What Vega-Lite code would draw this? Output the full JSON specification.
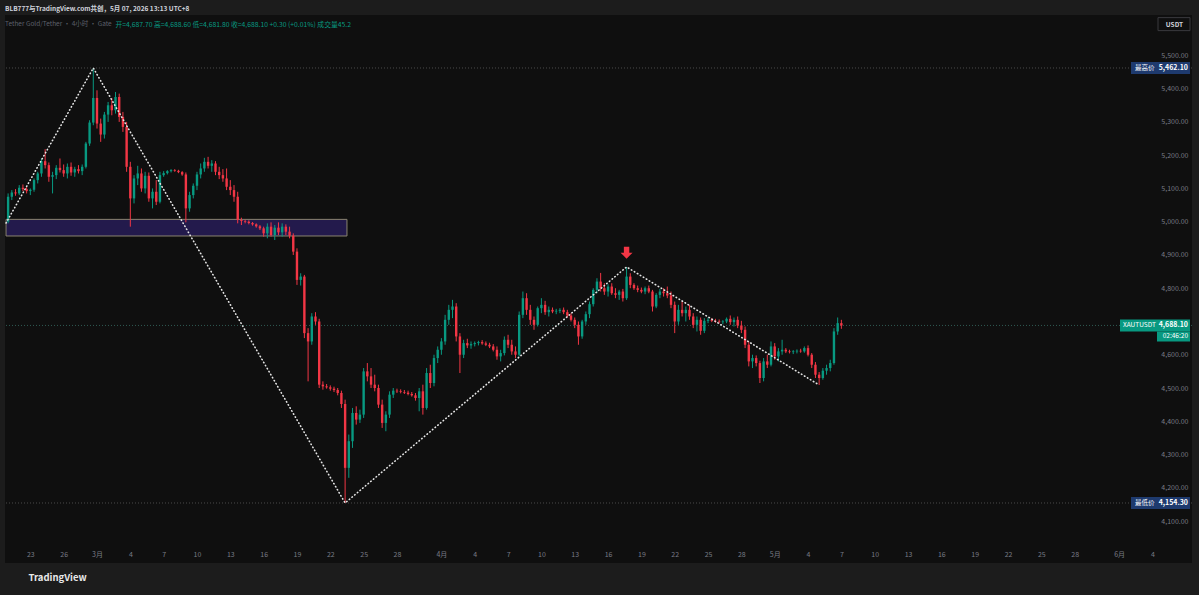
{
"$schema":"https://vega.github.io/schema/vega-lite/v6.json",
"autosize":{"type":"none"},
"padding":{"left":5,"top":15,"right":7,"bottom":32},
"width":1187,"height":548,
"title":{"text":"BLB777与TradingView.com共创，5月 07, 2026 13:13 UTC+8","subtitle":"Tether Gold/Tether · 4小时 · Gate","anchor":"start","frame":"group","orient":"top","offset":-12,"fontSize":6.5,"fontWeight":"bold","color":"#d1d4dc","subtitleFontSize":6.5,"subtitleColor":"#5d606b","subtitlePadding":8},
"config":{"background":"#1c1c1c","view":{"fill":"#0f0f0f","stroke":null},"font":"Noto Sans CJK SC","axis":{"grid":false,"domain":false,"ticks":false}},
"resolve":{"axis":{"x":"independent","y":"independent"}},
"datasets":{
"zone":[{"t1":"2026-02-20T19:30Z","t2":"2026-03-23T12:00Z","p1":5007,"p2":4957}],
"zigzag":[{"t":"2026-02-20T19:30Z","p":4996},{"t":"2026-02-28T16:00Z","p":5462.1},{"t":"2026-03-23T08:00Z","p":4154.3},{"t":"2026-04-17T16:00Z","p":4864},{"t":"2026-05-05T00:00Z","p":4509}],
"arrow":[{"t":"2026-04-17T16:00Z","p":4907}],
"tags":[{"kind":"high","name":"最高价","p":5462.1,"v":"5,462.10","cd":""},{"kind":"low","name":"最低价","p":4154.3,"v":"4,154.30","cd":""},{"kind":"last","name":"XAUTUSDT","p":4688.1,"v":"4,688.10","cd":"02:46:20"}],
"unit":[{"p":5594}],
"candles":[
{"t":"2026-02-21T00:00Z","o":5000,"h":5085,"l":4995,"c":5075},
{"t":"2026-02-21T08:00Z","o":5075,"h":5095,"l":5065,"c":5088},
{"t":"2026-02-21T16:00Z","o":5088,"h":5098,"l":5078,"c":5085},
{"t":"2026-02-22T00:00Z","o":5085,"h":5110,"l":5080,"c":5102},
{"t":"2026-02-22T08:00Z","o":5102,"h":5112,"l":5092,"c":5098},
{"t":"2026-02-22T16:00Z","o":5098,"h":5104,"l":5085,"c":5092},
{"t":"2026-02-23T00:00Z","o":5092,"h":5100,"l":5080,"c":5096},
{"t":"2026-02-23T08:00Z","o":5096,"h":5130,"l":5090,"c":5125},
{"t":"2026-02-23T16:00Z","o":5125,"h":5150,"l":5115,"c":5145},
{"t":"2026-02-24T00:00Z","o":5145,"h":5190,"l":5135,"c":5182},
{"t":"2026-02-24T08:00Z","o":5182,"h":5218,"l":5160,"c":5170},
{"t":"2026-02-24T16:00Z","o":5170,"h":5178,"l":5120,"c":5135},
{"t":"2026-02-25T00:00Z","o":5135,"h":5150,"l":5085,"c":5140},
{"t":"2026-02-25T08:00Z","o":5140,"h":5170,"l":5128,"c":5162},
{"t":"2026-02-25T16:00Z","o":5162,"h":5190,"l":5148,"c":5155},
{"t":"2026-02-26T00:00Z","o":5155,"h":5172,"l":5135,"c":5145},
{"t":"2026-02-26T08:00Z","o":5145,"h":5175,"l":5130,"c":5165},
{"t":"2026-02-26T16:00Z","o":5165,"h":5178,"l":5138,"c":5148},
{"t":"2026-02-27T00:00Z","o":5148,"h":5165,"l":5135,"c":5158},
{"t":"2026-02-27T08:00Z","o":5158,"h":5170,"l":5145,"c":5152},
{"t":"2026-02-27T16:00Z","o":5152,"h":5172,"l":5140,"c":5165},
{"t":"2026-02-28T00:00Z","o":5165,"h":5240,"l":5160,"c":5235},
{"t":"2026-02-28T08:00Z","o":5235,"h":5305,"l":5228,"c":5298},
{"t":"2026-02-28T16:00Z","o":5298,"h":5462.1,"l":5290,"c":5372},
{"t":"2026-03-01T00:00Z","o":5372,"h":5395,"l":5280,"c":5295},
{"t":"2026-03-01T08:00Z","o":5295,"h":5310,"l":5240,"c":5262},
{"t":"2026-03-01T16:00Z","o":5262,"h":5330,"l":5250,"c":5322},
{"t":"2026-03-02T00:00Z","o":5322,"h":5360,"l":5300,"c":5350},
{"t":"2026-03-02T08:00Z","o":5350,"h":5372,"l":5320,"c":5335},
{"t":"2026-03-02T16:00Z","o":5335,"h":5390,"l":5325,"c":5375},
{"t":"2026-03-03T00:00Z","o":5375,"h":5385,"l":5300,"c":5315},
{"t":"2026-03-03T08:00Z","o":5315,"h":5330,"l":5270,"c":5285},
{"t":"2026-03-03T16:00Z","o":5285,"h":5300,"l":5150,"c":5165},
{"t":"2026-03-04T00:00Z","o":5165,"h":5180,"l":4985,"c":5070},
{"t":"2026-03-04T08:00Z","o":5070,"h":5140,"l":5055,"c":5130},
{"t":"2026-03-04T16:00Z","o":5130,"h":5168,"l":5110,"c":5145},
{"t":"2026-03-05T00:00Z","o":5145,"h":5160,"l":5090,"c":5100},
{"t":"2026-03-05T08:00Z","o":5100,"h":5150,"l":5085,"c":5138},
{"t":"2026-03-05T16:00Z","o":5138,"h":5148,"l":5060,"c":5070},
{"t":"2026-03-06T00:00Z","o":5070,"h":5100,"l":5040,"c":5090},
{"t":"2026-03-06T08:00Z","o":5090,"h":5125,"l":5050,"c":5060},
{"t":"2026-03-06T16:00Z","o":5060,"h":5150,"l":5055,"c":5140},
{"t":"2026-03-07T00:00Z","o":5140,"h":5152,"l":5135,"c":5146},
{"t":"2026-03-07T08:00Z","o":5146,"h":5155,"l":5142,"c":5152},
{"t":"2026-03-07T16:00Z","o":5152,"h":5158,"l":5148,"c":5155},
{"t":"2026-03-08T00:00Z","o":5155,"h":5158,"l":5150,"c":5153},
{"t":"2026-03-08T08:00Z","o":5153,"h":5156,"l":5146,"c":5149},
{"t":"2026-03-08T16:00Z","o":5149,"h":5152,"l":5138,"c":5142},
{"t":"2026-03-09T00:00Z","o":5142,"h":5148,"l":4998,"c":5040},
{"t":"2026-03-09T08:00Z","o":5040,"h":5090,"l":5030,"c":5080},
{"t":"2026-03-09T16:00Z","o":5080,"h":5115,"l":5070,"c":5108},
{"t":"2026-03-10T00:00Z","o":5108,"h":5150,"l":5095,"c":5142},
{"t":"2026-03-10T08:00Z","o":5142,"h":5175,"l":5130,"c":5160},
{"t":"2026-03-10T16:00Z","o":5160,"h":5192,"l":5150,"c":5180},
{"t":"2026-03-11T00:00Z","o":5180,"h":5195,"l":5160,"c":5168},
{"t":"2026-03-11T08:00Z","o":5168,"h":5185,"l":5150,"c":5175},
{"t":"2026-03-11T16:00Z","o":5175,"h":5182,"l":5140,"c":5150},
{"t":"2026-03-12T00:00Z","o":5150,"h":5165,"l":5128,"c":5140},
{"t":"2026-03-12T08:00Z","o":5140,"h":5158,"l":5120,"c":5130},
{"t":"2026-03-12T16:00Z","o":5130,"h":5160,"l":5095,"c":5105},
{"t":"2026-03-13T00:00Z","o":5105,"h":5125,"l":5080,"c":5095},
{"t":"2026-03-13T08:00Z","o":5095,"h":5110,"l":5060,"c":5075},
{"t":"2026-03-13T16:00Z","o":5075,"h":5090,"l":4995,"c":5005},
{"t":"2026-03-14T00:00Z","o":5005,"h":5012,"l":4990,"c":5002},
{"t":"2026-03-14T08:00Z","o":5002,"h":5006,"l":4995,"c":5000},
{"t":"2026-03-14T16:00Z","o":5000,"h":5004,"l":4992,"c":4996},
{"t":"2026-03-15T00:00Z","o":4996,"h":4999,"l":4988,"c":4992},
{"t":"2026-03-15T08:00Z","o":4992,"h":4995,"l":4982,"c":4986},
{"t":"2026-03-15T16:00Z","o":4986,"h":4990,"l":4975,"c":4980},
{"t":"2026-03-16T00:00Z","o":4980,"h":4985,"l":4955,"c":4965},
{"t":"2026-03-16T08:00Z","o":4965,"h":4995,"l":4950,"c":4985},
{"t":"2026-03-16T16:00Z","o":4985,"h":4998,"l":4955,"c":4960},
{"t":"2026-03-17T00:00Z","o":4960,"h":4990,"l":4945,"c":4982},
{"t":"2026-03-17T08:00Z","o":4982,"h":4998,"l":4960,"c":4968},
{"t":"2026-03-17T16:00Z","o":4968,"h":4995,"l":4955,"c":4985},
{"t":"2026-03-18T00:00Z","o":4985,"h":4992,"l":4960,"c":4970},
{"t":"2026-03-18T08:00Z","o":4970,"h":4985,"l":4950,"c":4958},
{"t":"2026-03-18T16:00Z","o":4958,"h":4965,"l":4900,"c":4910},
{"t":"2026-03-19T00:00Z","o":4910,"h":4920,"l":4810,"c":4825},
{"t":"2026-03-19T08:00Z","o":4825,"h":4845,"l":4808,"c":4835},
{"t":"2026-03-19T16:00Z","o":4835,"h":4840,"l":4650,"c":4665},
{"t":"2026-03-20T00:00Z","o":4665,"h":4680,"l":4520,"c":4640},
{"t":"2026-03-20T08:00Z","o":4640,"h":4725,"l":4630,"c":4715},
{"t":"2026-03-20T16:00Z","o":4715,"h":4728,"l":4690,"c":4700},
{"t":"2026-03-21T00:00Z","o":4700,"h":4708,"l":4500,"c":4510},
{"t":"2026-03-21T08:00Z","o":4510,"h":4520,"l":4495,"c":4505},
{"t":"2026-03-21T16:00Z","o":4505,"h":4512,"l":4498,"c":4502},
{"t":"2026-03-22T00:00Z","o":4502,"h":4508,"l":4492,"c":4498},
{"t":"2026-03-22T08:00Z","o":4498,"h":4504,"l":4488,"c":4494},
{"t":"2026-03-22T16:00Z","o":4494,"h":4500,"l":4478,"c":4485},
{"t":"2026-03-23T00:00Z","o":4485,"h":4492,"l":4440,"c":4452},
{"t":"2026-03-23T08:00Z","o":4452,"h":4465,"l":4154.3,"c":4260},
{"t":"2026-03-23T16:00Z","o":4260,"h":4360,"l":4230,"c":4340},
{"t":"2026-03-24T00:00Z","o":4340,"h":4440,"l":4320,"c":4425},
{"t":"2026-03-24T08:00Z","o":4425,"h":4445,"l":4390,"c":4405},
{"t":"2026-03-24T16:00Z","o":4405,"h":4435,"l":4395,"c":4420},
{"t":"2026-03-25T00:00Z","o":4420,"h":4560,"l":4410,"c":4550},
{"t":"2026-03-25T08:00Z","o":4550,"h":4575,"l":4520,"c":4535},
{"t":"2026-03-25T16:00Z","o":4535,"h":4560,"l":4500,"c":4510},
{"t":"2026-03-26T00:00Z","o":4510,"h":4540,"l":4490,"c":4500},
{"t":"2026-03-26T08:00Z","o":4500,"h":4510,"l":4440,"c":4450},
{"t":"2026-03-26T16:00Z","o":4450,"h":4465,"l":4380,"c":4395},
{"t":"2026-03-27T00:00Z","o":4395,"h":4430,"l":4370,"c":4420},
{"t":"2026-03-27T08:00Z","o":4420,"h":4490,"l":4410,"c":4480},
{"t":"2026-03-27T16:00Z","o":4480,"h":4500,"l":4470,"c":4492},
{"t":"2026-03-28T00:00Z","o":4492,"h":4498,"l":4485,"c":4490},
{"t":"2026-03-28T08:00Z","o":4490,"h":4496,"l":4484,"c":4488},
{"t":"2026-03-28T16:00Z","o":4488,"h":4494,"l":4482,"c":4486},
{"t":"2026-03-29T00:00Z","o":4486,"h":4492,"l":4478,"c":4482},
{"t":"2026-03-29T08:00Z","o":4482,"h":4488,"l":4474,"c":4478},
{"t":"2026-03-29T16:00Z","o":4478,"h":4485,"l":4462,"c":4470},
{"t":"2026-03-30T00:00Z","o":4470,"h":4500,"l":4430,"c":4490},
{"t":"2026-03-30T08:00Z","o":4490,"h":4510,"l":4420,"c":4440},
{"t":"2026-03-30T16:00Z","o":4440,"h":4560,"l":4435,"c":4545},
{"t":"2026-03-31T00:00Z","o":4545,"h":4570,"l":4500,"c":4515},
{"t":"2026-03-31T08:00Z","o":4515,"h":4600,"l":4505,"c":4590},
{"t":"2026-03-31T16:00Z","o":4590,"h":4625,"l":4575,"c":4615},
{"t":"2026-04-01T00:00Z","o":4615,"h":4650,"l":4600,"c":4640},
{"t":"2026-04-01T08:00Z","o":4640,"h":4720,"l":4630,"c":4705},
{"t":"2026-04-01T16:00Z","o":4705,"h":4750,"l":4690,"c":4735},
{"t":"2026-04-02T00:00Z","o":4735,"h":4765,"l":4710,"c":4745},
{"t":"2026-04-02T08:00Z","o":4745,"h":4755,"l":4640,"c":4655},
{"t":"2026-04-02T16:00Z","o":4655,"h":4665,"l":4545,"c":4600},
{"t":"2026-04-03T00:00Z","o":4600,"h":4645,"l":4590,"c":4635},
{"t":"2026-04-03T08:00Z","o":4635,"h":4648,"l":4620,"c":4628},
{"t":"2026-04-03T16:00Z","o":4628,"h":4640,"l":4618,"c":4632},
{"t":"2026-04-04T00:00Z","o":4632,"h":4640,"l":4625,"c":4635},
{"t":"2026-04-04T08:00Z","o":4635,"h":4642,"l":4628,"c":4638},
{"t":"2026-04-04T16:00Z","o":4638,"h":4644,"l":4630,"c":4634},
{"t":"2026-04-05T00:00Z","o":4634,"h":4640,"l":4626,"c":4630},
{"t":"2026-04-05T08:00Z","o":4630,"h":4636,"l":4620,"c":4625},
{"t":"2026-04-05T16:00Z","o":4625,"h":4632,"l":4610,"c":4615},
{"t":"2026-04-06T00:00Z","o":4615,"h":4625,"l":4585,"c":4595},
{"t":"2026-04-06T08:00Z","o":4595,"h":4615,"l":4580,"c":4605},
{"t":"2026-04-06T16:00Z","o":4605,"h":4655,"l":4598,"c":4645},
{"t":"2026-04-07T00:00Z","o":4645,"h":4660,"l":4620,"c":4630},
{"t":"2026-04-07T08:00Z","o":4630,"h":4645,"l":4600,"c":4610},
{"t":"2026-04-07T16:00Z","o":4610,"h":4625,"l":4590,"c":4600},
{"t":"2026-04-08T00:00Z","o":4600,"h":4730,"l":4595,"c":4720},
{"t":"2026-04-08T08:00Z","o":4720,"h":4790,"l":4710,"c":4770},
{"t":"2026-04-08T16:00Z","o":4770,"h":4785,"l":4720,"c":4735},
{"t":"2026-04-09T00:00Z","o":4735,"h":4750,"l":4690,"c":4705},
{"t":"2026-04-09T08:00Z","o":4705,"h":4715,"l":4675,"c":4690},
{"t":"2026-04-09T16:00Z","o":4690,"h":4745,"l":4685,"c":4740},
{"t":"2026-04-10T00:00Z","o":4740,"h":4770,"l":4725,"c":4750},
{"t":"2026-04-10T08:00Z","o":4750,"h":4762,"l":4720,"c":4728},
{"t":"2026-04-10T16:00Z","o":4728,"h":4745,"l":4715,"c":4735},
{"t":"2026-04-11T00:00Z","o":4735,"h":4742,"l":4725,"c":4730},
{"t":"2026-04-11T08:00Z","o":4730,"h":4738,"l":4722,"c":4732},
{"t":"2026-04-11T16:00Z","o":4732,"h":4740,"l":4725,"c":4735},
{"t":"2026-04-12T00:00Z","o":4735,"h":4742,"l":4722,"c":4728},
{"t":"2026-04-12T08:00Z","o":4728,"h":4735,"l":4712,"c":4718},
{"t":"2026-04-12T16:00Z","o":4718,"h":4725,"l":4700,"c":4705},
{"t":"2026-04-13T00:00Z","o":4705,"h":4712,"l":4680,"c":4690},
{"t":"2026-04-13T08:00Z","o":4690,"h":4700,"l":4630,"c":4655},
{"t":"2026-04-13T16:00Z","o":4655,"h":4705,"l":4648,"c":4700},
{"t":"2026-04-14T00:00Z","o":4700,"h":4730,"l":4690,"c":4722},
{"t":"2026-04-14T08:00Z","o":4722,"h":4760,"l":4710,"c":4752},
{"t":"2026-04-14T16:00Z","o":4752,"h":4800,"l":4745,"c":4795},
{"t":"2026-04-15T00:00Z","o":4795,"h":4830,"l":4785,"c":4820},
{"t":"2026-04-15T08:00Z","o":4820,"h":4846,"l":4790,"c":4800},
{"t":"2026-04-15T16:00Z","o":4800,"h":4815,"l":4780,"c":4790},
{"t":"2026-04-16T00:00Z","o":4790,"h":4812,"l":4775,"c":4805},
{"t":"2026-04-16T08:00Z","o":4805,"h":4815,"l":4780,"c":4785},
{"t":"2026-04-16T16:00Z","o":4785,"h":4800,"l":4770,"c":4780},
{"t":"2026-04-17T00:00Z","o":4780,"h":4795,"l":4765,"c":4790},
{"t":"2026-04-17T08:00Z","o":4790,"h":4798,"l":4760,"c":4770},
{"t":"2026-04-17T16:00Z","o":4770,"h":4864,"l":4765,"c":4835},
{"t":"2026-04-18T00:00Z","o":4835,"h":4845,"l":4800,"c":4810},
{"t":"2026-04-18T08:00Z","o":4810,"h":4815,"l":4795,"c":4800},
{"t":"2026-04-18T16:00Z","o":4800,"h":4808,"l":4788,"c":4795},
{"t":"2026-04-19T00:00Z","o":4795,"h":4802,"l":4785,"c":4790},
{"t":"2026-04-19T08:00Z","o":4790,"h":4805,"l":4782,"c":4800},
{"t":"2026-04-19T16:00Z","o":4800,"h":4808,"l":4785,"c":4790},
{"t":"2026-04-20T00:00Z","o":4790,"h":4795,"l":4730,"c":4745},
{"t":"2026-04-20T08:00Z","o":4745,"h":4785,"l":4740,"c":4780},
{"t":"2026-04-20T16:00Z","o":4780,"h":4798,"l":4770,"c":4790},
{"t":"2026-04-21T00:00Z","o":4790,"h":4800,"l":4775,"c":4785},
{"t":"2026-04-21T08:00Z","o":4785,"h":4805,"l":4770,"c":4778},
{"t":"2026-04-21T16:00Z","o":4778,"h":4790,"l":4740,"c":4750},
{"t":"2026-04-22T00:00Z","o":4750,"h":4760,"l":4665,"c":4700},
{"t":"2026-04-22T08:00Z","o":4700,"h":4750,"l":4690,"c":4735},
{"t":"2026-04-22T16:00Z","o":4735,"h":4760,"l":4715,"c":4725},
{"t":"2026-04-23T00:00Z","o":4725,"h":4745,"l":4700,"c":4735},
{"t":"2026-04-23T08:00Z","o":4735,"h":4750,"l":4705,"c":4715},
{"t":"2026-04-23T16:00Z","o":4715,"h":4725,"l":4680,"c":4690},
{"t":"2026-04-24T00:00Z","o":4690,"h":4715,"l":4670,"c":4705},
{"t":"2026-04-24T08:00Z","o":4705,"h":4712,"l":4660,"c":4672},
{"t":"2026-04-24T16:00Z","o":4672,"h":4710,"l":4665,"c":4702},
{"t":"2026-04-25T00:00Z","o":4702,"h":4712,"l":4695,"c":4705},
{"t":"2026-04-25T08:00Z","o":4705,"h":4710,"l":4698,"c":4702},
{"t":"2026-04-25T16:00Z","o":4702,"h":4708,"l":4696,"c":4700},
{"t":"2026-04-26T00:00Z","o":4700,"h":4706,"l":4694,"c":4698},
{"t":"2026-04-26T08:00Z","o":4698,"h":4704,"l":4692,"c":4700},
{"t":"2026-04-26T16:00Z","o":4700,"h":4712,"l":4695,"c":4708},
{"t":"2026-04-27T00:00Z","o":4708,"h":4718,"l":4690,"c":4698},
{"t":"2026-04-27T08:00Z","o":4698,"h":4712,"l":4685,"c":4705},
{"t":"2026-04-27T16:00Z","o":4705,"h":4715,"l":4680,"c":4688},
{"t":"2026-04-28T00:00Z","o":4688,"h":4702,"l":4665,"c":4675},
{"t":"2026-04-28T08:00Z","o":4675,"h":4685,"l":4620,"c":4630},
{"t":"2026-04-28T16:00Z","o":4630,"h":4640,"l":4565,"c":4580},
{"t":"2026-04-29T00:00Z","o":4580,"h":4600,"l":4560,"c":4590},
{"t":"2026-04-29T08:00Z","o":4590,"h":4598,"l":4565,"c":4575},
{"t":"2026-04-29T16:00Z","o":4575,"h":4582,"l":4515,"c":4530},
{"t":"2026-04-30T00:00Z","o":4530,"h":4590,"l":4520,"c":4580},
{"t":"2026-04-30T08:00Z","o":4580,"h":4600,"l":4560,"c":4570},
{"t":"2026-04-30T16:00Z","o":4570,"h":4640,"l":4565,"c":4625},
{"t":"2026-05-01T00:00Z","o":4625,"h":4635,"l":4585,"c":4595},
{"t":"2026-05-01T08:00Z","o":4595,"h":4620,"l":4580,"c":4610},
{"t":"2026-05-01T16:00Z","o":4610,"h":4645,"l":4600,"c":4615},
{"t":"2026-05-02T00:00Z","o":4615,"h":4620,"l":4605,"c":4610},
{"t":"2026-05-02T08:00Z","o":4610,"h":4615,"l":4604,"c":4608},
{"t":"2026-05-02T16:00Z","o":4608,"h":4614,"l":4602,"c":4610},
{"t":"2026-05-03T00:00Z","o":4610,"h":4616,"l":4604,"c":4612},
{"t":"2026-05-03T08:00Z","o":4612,"h":4618,"l":4606,"c":4610},
{"t":"2026-05-03T16:00Z","o":4610,"h":4625,"l":4606,"c":4620},
{"t":"2026-05-04T00:00Z","o":4620,"h":4628,"l":4595,"c":4600},
{"t":"2026-05-04T08:00Z","o":4600,"h":4605,"l":4560,"c":4570},
{"t":"2026-05-04T16:00Z","o":4570,"h":4578,"l":4530,"c":4540},
{"t":"2026-05-05T00:00Z","o":4540,"h":4548,"l":4509,"c":4530},
{"t":"2026-05-05T08:00Z","o":4530,"h":4560,"l":4525,"c":4552},
{"t":"2026-05-05T16:00Z","o":4552,"h":4570,"l":4540,"c":4560},
{"t":"2026-05-06T00:00Z","o":4560,"h":4585,"l":4550,"c":4575},
{"t":"2026-05-06T08:00Z","o":4575,"h":4680,"l":4570,"c":4670},
{"t":"2026-05-06T16:00Z","o":4670,"h":4712,"l":4660,"c":4695},
{"t":"2026-05-07T00:00Z","o":4695,"h":4705,"l":4678,"c":4688.1}
]},
"layer":[
{"data":{"name":"zone"},"mark":{"type":"rect","fill":"#231a4c","stroke":"#8a8470","strokeWidth":1},
 "encoding":{"x":{"field":"t1","type":"temporal","scale":{"type":"utc","nice":false,"padding":0,"domain":[1771607820000,1780838760000]},"axis":null},"x2":{"field":"t2"},
 "y":{"field":"p1","type":"quantitative","scale":{"domain":[3973.9,5621.4],"nice":false,"zero":false,"padding":0},"axis":null},"y2":{"field":"p2"}}},
{"data":{"name":"tags"},"mark":{"type":"rule","strokeDash":[1,2],"strokeWidth":1},
 "encoding":{"y":{"field":"p","type":"quantitative","scale":{"domain":[3973.9,5621.4],"nice":false,"zero":false,"padding":0},"axis":null},
 "color":{"condition":{"test":"datum.kind == 'last'","value":"#2f5a52"},"value":"#4a4a4a"}}},
{"data":{"name":"candles"},"mark":{"type":"rule","strokeWidth":1},
 "encoding":{"x":{"field":"t","type":"temporal","scale":{"type":"utc","nice":false,"padding":0,"domain":[1771607820000,1780838760000]},
   "axis":{"orient":"bottom","offset":-9,"labelBaseline":"middle","labelPadding":0,"tickSize":0,"ticks":false,"domain":false,"grid":false,"labelColor":"#787b86","labelFontSize":7,"labelOverlap":false,"labelFlush":false,
   "labelExpr":"utcdate(datum.value) == 1 ? (utcmonth(datum.value) + 1) + '月' : '' + utcdate(datum.value)",
   "values":[1771804800000,1772064000000,1772323200000,1772582400000,1772841600000,1773100800000,1773360000000,1773619200000,1773878400000,1774137600000,1774396800000,1774656000000,1775001600000,1775260800000,1775520000000,1775779200000,1776038400000,1776297600000,1776556800000,1776816000000,1777075200000,1777334400000,1777593600000,1777852800000,1778112000000,1778371200000,1778630400000,1778889600000,1779148800000,1779408000000,1779667200000,1779926400000,1780272000000,1780531200000],
   "title":"TradingView","titleX":23,"titleY":23,"titleAlign":"left","titleAnchor":"start","titleBaseline":"middle","titleAngle":0,"titleFontSize":9.5,"titleFontWeight":"bold","titleColor":"#e8e8e8"}},
 "y":{"field":"l","type":"quantitative","scale":{"domain":[3973.9,5621.4],"nice":false,"zero":false,"padding":0},
   "axis":{"orient":"right","offset":-4,"values":[4100,4200,4300,4400,4500,4600,4800,4900,5000,5100,5200,5300,5400,5500],"format":",.2f","labelAlign":"right","labelBaseline":"middle","labelPadding":0,"tickSize":0,"ticks":false,"domain":false,"grid":false,"labelColor":"#787b86","labelFontSize":7,"labelOverlap":false,"labelFlush":false,
   "title":"USDT","titleX":-14,"titleY":9,"titleAlign":"center","titleBaseline":"middle","titleAngle":0,"titleFontSize":6.5,"titleFontWeight":"bold","titleColor":"#d1d4dc"}},
 "y2":{"field":"h"},
 "color":{"condition":{"test":"datum.c >= datum.o","value":"#089981"},"value":"#f23645"}}},
{"data":{"name":"candles"},"mark":{"type":"bar","size":2.4},
 "encoding":{"x":{"field":"t","type":"temporal","scale":{"type":"utc","nice":false,"padding":0,"domain":[1771607820000,1780838760000]},"axis":null},
 "y":{"field":"o","type":"quantitative","scale":{"domain":[3973.9,5621.4],"nice":false,"zero":false,"padding":0},"axis":null},"y2":{"field":"c"},
 "color":{"condition":{"test":"datum.c >= datum.o","value":"#089981"},"value":"#f23645"}}},
{"data":{"name":"zigzag"},"mark":{"type":"line","color":"#e6e6e6","strokeWidth":1.6,"strokeDash":[0.5,3],"strokeCap":"round"},
 "encoding":{"x":{"field":"t","type":"temporal","scale":{"type":"utc","nice":false,"padding":0,"domain":[1771607820000,1780838760000]},"axis":null},
 "y":{"field":"p","type":"quantitative","scale":{"domain":[3973.9,5621.4],"nice":false,"zero":false,"padding":0},"axis":null}}},
{"data":{"name":"arrow"},"mark":{"type":"point","shape":"M-0.45,-1H0.45V0H1L0,1L-1,0H-0.45Z","size":144,"filled":true,"color":"#f23645","opacity":1},
 "encoding":{"x":{"field":"t","type":"temporal","scale":{"type":"utc","nice":false,"padding":0,"domain":[1771607820000,1780838760000]},
   "axis":{"orient":"top","labels":false,"ticks":false,"domain":false,"grid":false,"title":"开=4,687.70  高=4,688.60  低=4,681.80  收=4,688.10  +0.30 (+0.01%)  成交量45.2","titleX":110,"titleY":9,"titleAlign":"left","titleAnchor":"start","titleBaseline":"middle","titleAngle":0,"titleFontSize":6.8,"titleFontWeight":"normal","titleColor":"#089981"}},
 "y":{"field":"p","type":"quantitative","scale":{"domain":[3973.9,5621.4],"nice":false,"zero":false,"padding":0},"axis":null}}},
{"data":{"name":"unit"},"mark":{"type":"point","shape":"M-1,-0.406H1V0.406H-1Z","size":1024,"filled":false,"stroke":"#3a3a3e","strokeWidth":1,"opacity":1,"xOffset":-18},
 "encoding":{"x":{"value":"width"},"y":{"field":"p","type":"quantitative","scale":{"domain":[3973.9,5621.4],"nice":false,"zero":false,"padding":0},"axis":null}}},
{"data":{"name":"tags"},"transform":[{"filter":"datum.kind != 'last'"}],"mark":{"type":"point","shape":"M-1,-0.2034H1V0.2034H-1Z","size":3481,"filled":true,"color":"#1e3a6e","opacity":1,"strokeWidth":0,"xOffset":-31.5},
 "encoding":{"x":{"value":"width"},"y":{"field":"p","type":"quantitative","scale":{"domain":[3973.9,5621.4],"nice":false,"zero":false,"padding":0},"axis":null}}},
{"data":{"name":"tags"},"transform":[{"filter":"datum.kind == 'last'"}],"mark":{"type":"point","shape":"M-1,-0.1714H1V0.1714H-1Z","size":4900,"filled":true,"color":"#089981","opacity":1,"strokeWidth":0,"xOffset":-37},
 "encoding":{"x":{"value":"width"},"y":{"field":"p","type":"quantitative","scale":{"domain":[3973.9,5621.4],"nice":false,"zero":false,"padding":0},"axis":null}}},
{"data":{"name":"tags"},"transform":[{"filter":"datum.kind == 'last'"}],"mark":{"type":"point","shape":"M-1,-0.303H1V0.303H-1Z","size":1089,"filled":true,"color":"#089981","opacity":1,"strokeWidth":0,"xOffset":-18.5,"yOffset":11},
 "encoding":{"x":{"value":"width"},"y":{"field":"p","type":"quantitative","scale":{"domain":[3973.9,5621.4],"nice":false,"zero":false,"padding":0},"axis":null}}},
{"data":{"name":"tags"},"transform":[{"filter":"datum.kind != 'last'"}],"mark":{"type":"text","align":"left","baseline":"middle","fontSize":6.5,"color":"#ffffff","xOffset":-57},
 "encoding":{"x":{"value":"width"},"y":{"field":"p","type":"quantitative","scale":{"domain":[3973.9,5621.4],"nice":false,"zero":false,"padding":0},"axis":null},"text":{"field":"name"}}},
{"data":{"name":"tags"},"transform":[{"filter":"datum.kind == 'last'"}],"mark":{"type":"text","align":"left","baseline":"middle","fontSize":6.5,"color":"#ffffff","xOffset":-69},
 "encoding":{"x":{"value":"width"},"y":{"field":"p","type":"quantitative","scale":{"domain":[3973.9,5621.4],"nice":false,"zero":false,"padding":0},"axis":null},"text":{"field":"name"}}},
{"data":{"name":"tags"},"mark":{"type":"text","align":"right","baseline":"middle","fontSize":7,"fontWeight":"bold","color":"#ffffff","xOffset":-4},
 "encoding":{"x":{"value":"width"},"y":{"field":"p","type":"quantitative","scale":{"domain":[3973.9,5621.4],"nice":false,"zero":false,"padding":0},"axis":null},"text":{"field":"v"}}},
{"data":{"name":"tags"},"transform":[{"filter":"datum.kind == 'last'"}],"mark":{"type":"text","align":"right","baseline":"middle","fontSize":6.5,"color":"#ffffff","xOffset":-4,"yOffset":11},
 "encoding":{"x":{"value":"width"},"y":{"field":"p","type":"quantitative","scale":{"domain":[3973.9,5621.4],"nice":false,"zero":false,"padding":0},"axis":null},"text":{"field":"cd"}}}
]
}
